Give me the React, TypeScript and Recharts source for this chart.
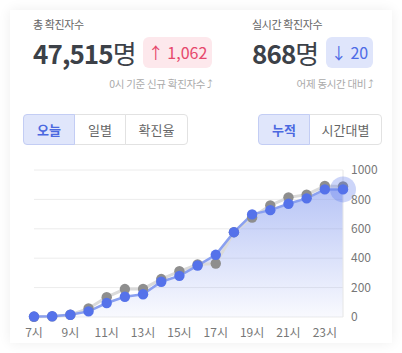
import React from "react";
import {
  ComposedChart,
  Area,
  Line,
  XAxis,
  YAxis,
  CartesianGrid,
} from "recharts";

const hours = [
  "7시", "8시", "9시", "10시", "11시", "12시", "13시", "14시", "15시",
  "16시", "17시", "18시", "19시", "20시", "21시", "22시", "23시", "24시",
];
const today = [3, 5, 15, 38, 95, 138, 155, 240, 280, 350, 423, 577, 698, 727, 770, 807, 868, 868];
const yesterday = [2, 4, 15, 58, 135, 190, 191, 258, 311, 357, 364, 577, 677, 759, 814, 832, 891, 888];
const yTicks = [0, 200, 400, 600, 800, 1000];

const FONT = '"Noto Sans CJK KR", "Noto Sans", sans-serif';

const data = hours.map((h, i) => ({ hour: h, today: today[i], yesterday: yesterday[i] }));

function TodayDot(props: any) {
  const { cx, cy, index } = props;
  if (cx == null || cy == null) return null;
  const last = index === data.length - 1;
  return (
    <g key={"d" + index}>
      {last && <circle cx={cx} cy={cy} r={13} fill="rgba(86,115,235,0.3)" />}
      <circle cx={cx} cy={cy} r={5.2} fill="#5572ea" />
    </g>
  );
}

function Stat(props: {
  left: number;
  title: string;
  value: string;
  badge: string;
  up: boolean;
  note: string;
  noteRight: number;
}) {
  const { left, title, value, badge, up, note, noteRight } = props;
  return (
    <>
      <div style={{ position: "absolute", left, top: 16, fontSize: 11, color: "#666", letterSpacing: -0.4 }}>
        {title}
      </div>
      <div style={{ position: "absolute", left, top: 35, fontSize: 26, color: "#3c4148", letterSpacing: -0.9, lineHeight: "36px" }}>
        <span style={{ fontWeight: 700 }}>{value}</span>
        <span style={{ fontWeight: 400 }}>명</span>
      </div>
      <div
        style={{
          position: "absolute",
          left: up ? 143 : 326,
          top: 37,
          width: up ? 69 : 47,
          height: 31,
          borderRadius: 6,
          background: up ? "#fde8ec" : "#dfe5fb",
          color: up ? "#e6476b" : "#4d6be6",
          fontSize: 16,
          lineHeight: "31px",
          textAlign: "center",
        }}
      >
        {up ? "↑ " : "↓ "}
        {badge}
      </div>
      <div
        style={{
          position: "absolute",
          right: 402 - noteRight,
          top: 76,
          fontSize: 10.5,
          color: "#aaa",
          letterSpacing: -0.3,
          whiteSpace: "nowrap",
        }}
      >
        {note} <span style={{ fontFamily: "DejaVu Sans", fontSize: 11 }}>⤴</span>
      </div>
    </>
  );
}

function Btn(props: { label: string; width: number; active?: boolean; first?: boolean; last?: boolean }) {
  const { label, width, active, first, last } = props;
  return (
    <div
      style={{
        width,
        height: 31,
        boxSizing: "border-box",
        border: "1px solid " + (active ? "#c3cdf4" : "#e2e2e2"),
        marginLeft: first ? 0 : -1,
        borderRadius: first ? "4px 0 0 4px" : last ? "0 4px 4px 0" : 0,
        background: active ? "#e0e6fb" : "#fff",
        color: active ? "#4b68e0" : "#666",
        fontWeight: active ? 700 : 400,
        fontSize: 13,
        lineHeight: "29px",
        textAlign: "center",
        position: "relative",
        zIndex: active ? 1 : 0,
      }}
    >
      {label}
    </div>
  );
}

export default function App() {
  return (
    <div
      style={{
        position: "absolute",
        left: 0,
        top: 0,
        width: 402,
        height: 353,
        overflow: "hidden",
        background: "#fff",
        fontFamily: FONT,
      }}
    >
      <div
        style={{
          position: "absolute",
          left: 10,
          top: 10,
          width: 382,
          height: 333,
          background: "#fff",
          boxShadow: "0 0 12px rgba(0,0,0,0.07)",
        }}
      />
      <Stat left={33} title="총 확진자수" value="47,515" badge="1,062" up note="0시 기준 신규 확진자수" noteRight={213} />
      <Stat left={252} title="실시간 확진자수" value="868" badge="20" up={false} note="어제 동시간 대비" noteRight={374} />

      <div style={{ position: "absolute", left: 23, top: 114, display: "flex" }}>
        <Btn label="오늘" width={52} active first />
        <Btn label="일별" width={52} />
        <Btn label="확진율" width={63} last />
      </div>
      <div style={{ position: "absolute", left: 258, top: 114, display: "flex" }}>
        <Btn label="누적" width={52} active first />
        <Btn label="시간대별" width={73} last />
      </div>

      <div style={{ position: "absolute", left: 0, top: 160 }}>
        <ComposedChart
          width={402}
          height={185}
          data={data}
          margin={{ top: 10, right: 0, bottom: 4, left: 34 }}
        >
          <defs>
            <linearGradient id="areaFill" x1="0" y1="0" x2="0" y2="1">
              <stop offset="0%" stopColor="#7e95ee" stopOpacity={0.55} />
              <stop offset="100%" stopColor="#7e95ee" stopOpacity={0.05} />
            </linearGradient>
          </defs>
          <CartesianGrid vertical={false} stroke="#ececec" />
          <XAxis
            dataKey="hour"
            interval={1}
            axisLine={false}
            tickLine={false}
            height={24}
            tickMargin={5}
            tick={{ fontSize: 12, fill: "#777", fontFamily: FONT }}
          />
          <YAxis
            orientation="right"
            domain={[0, 1000]}
            ticks={yTicks}
            width={59}
            axisLine={{ stroke: "#e6e6e6" }}
            tickLine={false}
            tickMargin={2}
            tick={{ fontSize: 12, fill: "#777", fontFamily: FONT, textAnchor: "start" }}
          />
          <Area
            type="linear"
            dataKey="today"
            stroke="none"
            fill="url(#areaFill)"
            fillOpacity={1}
            isAnimationActive={false}
          />
          <Line
            type="linear"
            dataKey="yesterday"
            stroke="#dadada"
            strokeWidth={3}
            dot={{ r: 5.2, fill: "#8e8e8e", stroke: "none" }}
            activeDot={false}
            isAnimationActive={false}
          />
          <Line
            type="linear"
            dataKey="today"
            stroke="#8aa0f0"
            strokeWidth={2.5}
            dot={TodayDot}
            activeDot={false}
            isAnimationActive={false}
          />
        </ComposedChart>
      </div>
    </div>
  );
}
